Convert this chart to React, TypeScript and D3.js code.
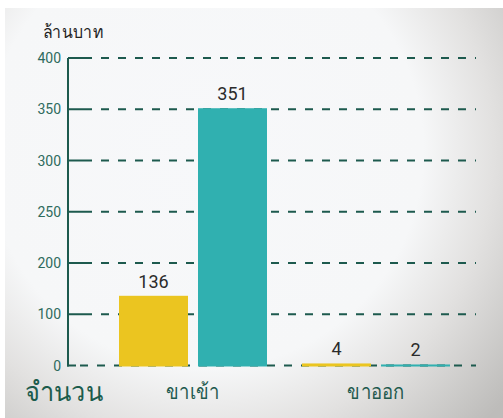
import React from "react";
import * as d3 from "d3";

const categories = ["ขาเข้า", "ขาออก"];
const seriesKeys = ["a", "b"];
const seriesA = [136, 4];
const seriesB = [351, 2];
const yTicks = [0, 100, 200, 250, 300, 350, 400];
const yTickLabels = ["0", "100", "200", "250", "300", "350", "400"];
const unitLabel = "ล้านบาท";
const axisTitle = "จำนวน";

const W = 503;
const H = 418;
const colors = ["#ebc520", "#30b0b0"];
const green = "#1d5a4e";
const thai = "'Noto Sans', 'DejaVu Sans', sans-serif";

export default function App() {
  // axis ticks are evenly spaced in the original, so use a piecewise scale over the tick values
  const y = d3
    .scaleLinear()
    .domain(yTicks)
    .range(yTicks.map((_, i) => 365.5 - i * ((365.5 - 58) / (yTicks.length - 1))));
  const x0 = d3.scaleBand().domain(categories).range([119, 450]).paddingInner(35 / 183).paddingOuter(0);
  const x1 = d3.scaleBand().domain(seriesKeys).range([0, x0.bandwidth()]).paddingInner(10 / 79);
  const data = categories.map((c, i) => ({ c, vals: [seriesA[i], seriesB[i]] }));
  return (
    <svg width={W} height={H} style={{ position: "absolute", left: 0, top: 0 }}>
      <defs>
        <radialGradient id="bg" gradientUnits="userSpaceOnUse" cx={205} cy={150} r={390}>
          <stop offset="0" stopColor="#f7f8fa" />
          <stop offset="0.56" stopColor="#f6f7f8" />
          <stop offset="0.74" stopColor="#e2e1e0" />
          <stop offset="1" stopColor="#bdbcba" />
        </radialGradient>
      </defs>
      <rect x={0} y={0} width={W} height={H} fill="#ffffff" />
      <rect x={5} y={8} width={W - 5} height={H - 8} fill="url(#bg)" />
      <text x={43} y={38} fontFamily={thai} fontSize={18} fill="#222" transform="translate(43,0) scale(0.88,1) translate(-43,0)">{unitLabel}</text>
      {yTicks.map((t, i) => (
        <g key={t}>
          <text x={61} y={y(t) + 5} textAnchor="end" fontFamily="'Liberation Sans Narrow', 'Roboto', sans-serif" fontSize={14} fill="#2e6b5d">{yTickLabels[i]}</text>
          {t !== 0 && <line x1={68} x2={92} y1={y(t)} y2={y(t)} stroke={green} strokeWidth={2} />}
          <line x1={t === 0 ? 80 : 101} x2={476} y1={y(t)} y2={y(t)} stroke={green} strokeWidth={2} strokeDasharray="8 9" />
        </g>
      ))}
      <line x1={68} x2={68} y1={y(400)} y2={y(0) + 1} stroke={green} strokeWidth={2} />
      <line x1={67} x2={76} y1={y(0)} y2={y(0)} stroke={green} strokeWidth={2} />
      {data.map((d) => (
        <g key={d.c} transform={`translate(${x0(d.c)},0)`}>
          {d.vals.map((v, j) => {
            const bx = x1(seriesKeys[j])!;
            const top = y(v);
            return (
              <g key={j}>
                <rect x={bx} y={top} width={x1.bandwidth()} height={y(0) - top + 1} fill={colors[j]} />
                <text x={bx + x1.bandwidth() / 2} y={top - 8} textAnchor="middle" fontFamily="Roboto, 'Liberation Sans', sans-serif" fontSize={18} fill="#2b2b2b">{v}</text>
              </g>
            );
          })}
          <text x={x0.bandwidth() / 2} y={399} textAnchor="middle" fontFamily={thai} fontSize={21} fill="#1f5a4e" transform={`translate(${x0.bandwidth() / 2},0) scale(0.88,1) translate(${-x0.bandwidth() / 2},0)`}>{d.c}</text>
        </g>
      ))}
      <text x={25} y={401} fontFamily={thai} fontSize={27} fill="#1c5c4c" transform="translate(25,0) scale(0.94,1) translate(-25,0)">{axisTitle}</text>
    </svg>
  );
}
